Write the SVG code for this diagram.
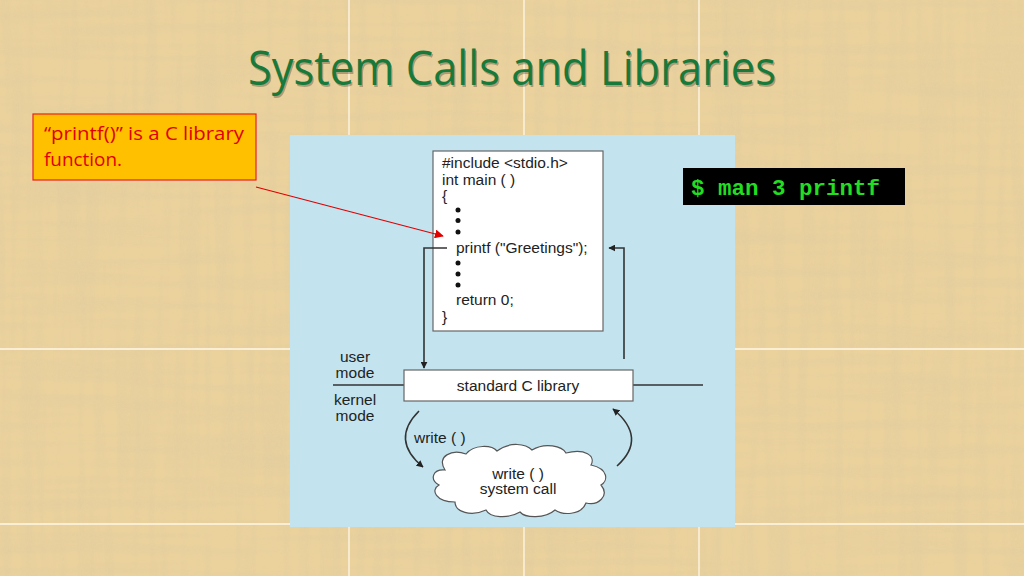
<svg xmlns="http://www.w3.org/2000/svg" width="1024" height="576" viewBox="0 0 1024 576">
<defs>
<style>
.code{font-family:"Liberation Sans",Arial,sans-serif;font-size:15.5px;fill:#222}
.lbl{font-family:"Liberation Sans",Arial,sans-serif;font-size:15.5px;fill:#222}
.ln{fill:none;stroke:#333;stroke-width:1.6}
.grid{stroke:#fff8e8;stroke-width:1.3}
</style>
<marker id="ah" viewBox="0 0 10 10" refX="9" refY="5" markerWidth="7" markerHeight="7" orient="auto" markerUnits="userSpaceOnUse">
<path d="M0,0 L10,5 L0,10 Z" fill="#222"/>
</marker>
<marker id="ahr" viewBox="0 0 10 10" refX="9" refY="5" markerWidth="9" markerHeight="9" orient="auto" markerUnits="userSpaceOnUse">
<path d="M0,0 L10,5 L0,10 Z" fill="#e00000"/>
</marker>
<filter id="tex" x="0" y="0" width="100%" height="100%">
<feTurbulence type="fractalNoise" baseFrequency="0.006 0.09" numOctaves="2" seed="3" result="a"/>
<feColorMatrix in="a" type="matrix" values="0 0 0 0 0.75  0 0 0 0 0.6  0 0 0 0 0.35  0 0 0 1.4 -0.55"/>
</filter>
<filter id="tex2" x="0" y="0" width="100%" height="100%">
<feTurbulence type="fractalNoise" baseFrequency="0.09 0.006" numOctaves="2" seed="7" result="a"/>
<feColorMatrix in="a" type="matrix" values="0 0 0 0 0.75  0 0 0 0 0.6  0 0 0 0 0.35  0 0 0 1.4 -0.55"/>
</filter>
</defs>
<g id="background">
<rect x="0" y="0" width="1024" height="576" fill="#ebd29d"/>
<rect x="0" y="0" width="1024" height="576" filter="url(#tex)" opacity="0.7"/>
<rect x="0" y="0" width="1024" height="576" filter="url(#tex2)" opacity="0.7"/>
<line class="grid" x1="349" y1="0" x2="349" y2="576"/>
<line class="grid" x1="524" y1="0" x2="524" y2="576"/>
<line class="grid" x1="699" y1="0" x2="699" y2="576"/>
<line class="grid" x1="0" y1="349" x2="1024" y2="349"/>
<line class="grid" x1="0" y1="524" x2="1024" y2="524"/>
</g>
<g id="title">
<text x="513.5" y="86.5" text-anchor="middle" font-family="'Open Sans','Noto Sans',sans-serif" font-size="47" fill="#000" opacity="0.25" textLength="528" lengthAdjust="spacingAndGlyphs">System Calls and Libraries</text>
<text x="512" y="85" text-anchor="middle" font-family="'Open Sans','Noto Sans',sans-serif" font-size="47" fill="#17793a" textLength="528" lengthAdjust="spacingAndGlyphs">System Calls and Libraries</text>
</g>
<g id="panel">
<rect x="290" y="135" width="445" height="392" fill="#c3e4ef"/>
</g>
<g id="note">
<rect x="33" y="114" width="223" height="66" fill="#ffc000" stroke="#e82020" stroke-width="1.2"/>
<text x="44" y="140" font-family="'Open Sans','Noto Sans',sans-serif" font-size="18" fill="#e00000" textLength="200" lengthAdjust="spacingAndGlyphs">“printf()” is a C library</text>
<text x="44" y="166" font-family="'Open Sans','Noto Sans',sans-serif" font-size="18" fill="#e00000" textLength="78" lengthAdjust="spacingAndGlyphs">function.</text>
</g>
<g id="man">
<rect x="683" y="168" width="222" height="37" fill="#000"/>
<text x="691" y="195" font-family="'Liberation Mono','Courier New',monospace" font-weight="bold" font-size="22.5" fill="#22dd22">$ man 3 printf</text>
</g>
<g id="code">
<rect x="433" y="151" width="170" height="180" fill="#fff" stroke="#666" stroke-width="1.2"/>
<text class="code" x="442" y="168">#include &lt;stdio.h&gt;</text>
<text class="code" x="442" y="185">int main ( )</text>
<text class="code" x="442" y="201">{</text>
<circle cx="458" cy="210" r="2.5" fill="#111"/>
<circle cx="458" cy="220.5" r="2.5" fill="#111"/>
<circle cx="458" cy="232" r="2.5" fill="#111"/>
<text class="code" x="456" y="253">printf ("Greetings");</text>
<circle cx="458" cy="263" r="2.5" fill="#111"/>
<circle cx="458" cy="274" r="2.5" fill="#111"/>
<circle cx="458" cy="285" r="2.5" fill="#111"/>
<text class="code" x="456" y="305">return 0;</text>
<text class="code" x="442" y="322">}</text>
</g>
<g id="modes">
<line class="ln" x1="333" y1="385" x2="404" y2="385"/>
<line class="ln" x1="633" y1="385" x2="703" y2="385"/>
<text class="lbl" x="355" y="362" text-anchor="middle">user</text>
<text class="lbl" x="355" y="378" text-anchor="middle">mode</text>
<text class="lbl" x="355" y="405" text-anchor="middle">kernel</text>
<text class="lbl" x="355" y="421" text-anchor="middle">mode</text>
</g>
<g id="library">
<rect x="404" y="370" width="229" height="31" fill="#fff" stroke="#666" stroke-width="1.2"/>
<text class="lbl" x="518" y="391" text-anchor="middle">standard C library</text>
</g>
<g id="syscall">
<path d="M445,470 C436,456 452,449 466,454 C474,444 492,445 497,451 C510,441 526,444 532,450 C545,442 562,446 566,453 C585,448 596,456 591,465 C609,469 608,481 601,485 C610,496 598,506 586,503 C581,516 562,515 555,510 C545,519 525,518 520,512 C508,519 490,518 486,510 C471,517 455,512 455,502 C436,502 430,490 439,485 C429,479 433,469 445,470 Z" fill="#fff" stroke="#555" stroke-width="1.2"/>
<text class="lbl" x="518" y="479" text-anchor="middle">write ( )</text>
<text class="lbl" x="518" y="494" text-anchor="middle">system call</text>
</g>
<g id="connectors">
<path class="ln" d="M447,248 H424 V368" marker-end="url(#ah)"/>
<path class="ln" d="M624,359 V248 H609" marker-end="url(#ah)"/>
<path class="ln" d="M419,411 Q390,440 423,467" marker-end="url(#ah)"/>
<path class="ln" d="M617,466 Q648,438 613,409" marker-end="url(#ah)"/>
<text class="lbl" x="414" y="443">write ( )</text>
<line x1="256" y1="187" x2="443" y2="236" stroke="#e00000" stroke-width="1.2" marker-end="url(#ahr)"/>
</g>
</svg>
